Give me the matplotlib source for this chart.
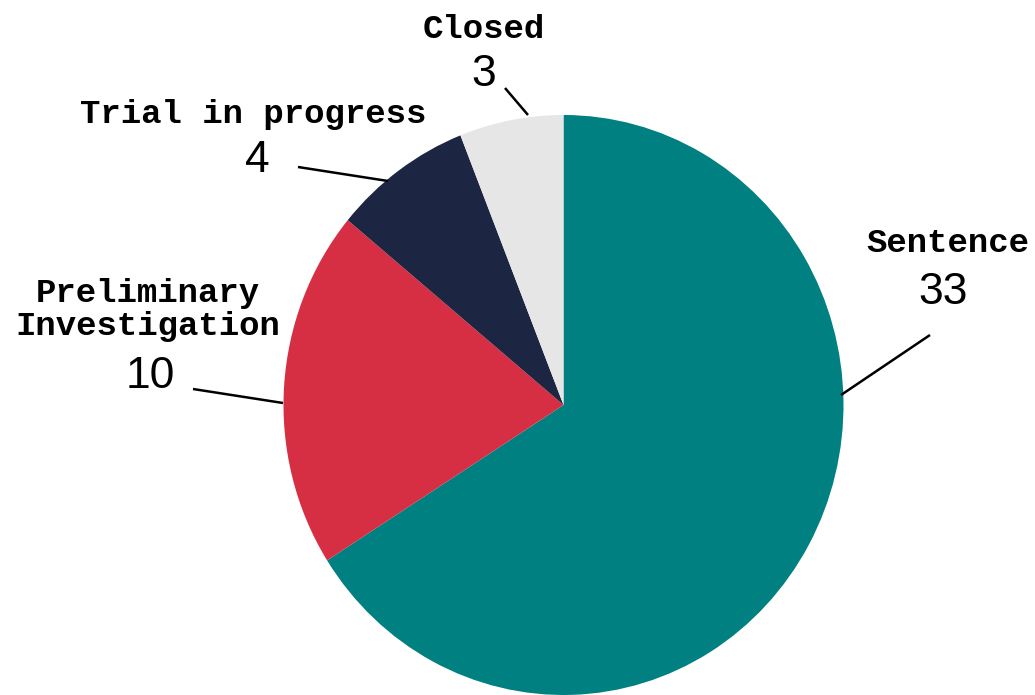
import matplotlib
matplotlib.use("Agg")
import matplotlib.pyplot as plt

categories = ["Sentence", "Preliminary\nInvestigation", "Trial in progress", "Closed"]
values = [33, 10, 4, 3]
colors = ["#008080", "#D62F43", "#1C2542", "#E6E6E6"]

W, H = 1035, 695
fig = plt.figure(figsize=(W / 100, H / 100), dpi=100)
ax = fig.add_axes([0, 0, 1, 1])

ax.pie(values, colors=colors, startangle=90, counterclock=False,
       wedgeprops=dict(linewidth=0))
ax.set_aspect("auto")

# pixel geometry of the pie (center and radii)
cx, cy, rx, ry = 563.5, 405.0, 280.0, 290.0
ax.set_xlim(-cx / rx, (W - cx) / rx)
ax.set_ylim(-(H - cy) / ry, cy / ry)
ax.axis("off")


def P(px, py):
    return ((px - cx) / rx, (cy - py) / ry)


label_font = dict(family="Liberation Mono", fontweight="bold", fontsize=24.5, color="black")
num_font = dict(family="Liberation Sans", fontsize=32, color="black")

# (label position, number position, line start, line end, label ha)
layout = [
    (P(866, 243), P(943, 292), P(930, 335), P(841, 395), "left"),
    (P(148, 310), P(150, 377), P(193, 389), P(283, 403), "center"),
    (P(253, 114), P(257, 160), P(298, 167), P(388, 181), "center"),
    (P(484, 30), P(484, 75), P(505, 88), P(528, 115), "center"),
]

for cat, val, (lp, npos, l0, l1, ha) in zip(categories, values, layout):
    ax.text(lp[0], lp[1], cat, ha=ha, va="center", linespacing=1.08, **label_font)
    ax.text(npos[0], npos[1], str(val), ha="center", va="center", **num_font)
    ax.plot([l0[0], l1[0]], [l0[1], l1[1]], color="black", lw=1.8,
            solid_capstyle="butt")

fig.savefig("out.png", dpi=100)
